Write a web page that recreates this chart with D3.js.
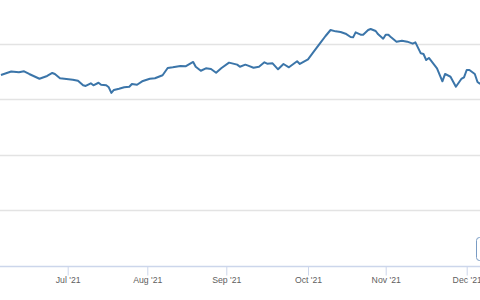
<!DOCTYPE html>
<html>
<head>
<meta charset="utf-8">
<script src="https://cdn.jsdelivr.net/npm/d3@7"></script>
<style>
    html, body { margin: 0; padding: 0; background: #fff; overflow: hidden; }
    .tick text { font-family: "Liberation Sans", Arial, sans-serif; font-size: 8.7px; fill: #606060; }
</style>
</head>
<body>
<svg id="chart"></svg>
<script>
// month ticks shown on the x-axis
const monthTicks = ['2021-07-01', '2021-08-01', '2021-09-01', '2021-10-01', '2021-11-01', '2021-12-01'];

// y gridline values
const yTicks = [0, 50, 100, 150, 200];

// daily series
const dates = [
    '2021-06-05', '2021-06-09', '2021-06-12', '2021-06-14', '2021-06-16', '2021-06-20', '2021-06-23', '2021-06-25', '2021-06-26', '2021-06-28',
    '2021-07-03', '2021-07-05', '2021-07-07', '2021-07-08', '2021-07-10', '2021-07-11', '2021-07-13', '2021-07-14', '2021-07-16', '2021-07-17',
    '2021-07-18', '2021-07-19', '2021-07-21', '2021-07-23', '2021-07-25', '2021-07-26', '2021-07-28', '2021-07-30',
    '2021-08-02', '2021-08-04', '2021-08-07', '2021-08-09', '2021-08-11', '2021-08-14', '2021-08-16', '2021-08-18', '2021-08-19', '2021-08-20',
    '2021-08-22', '2021-08-24', '2021-08-26', '2021-08-28', '2021-08-30',
    '2021-09-02', '2021-09-05', '2021-09-06', '2021-09-08', '2021-09-09', '2021-09-11', '2021-09-13', '2021-09-15', '2021-09-16', '2021-09-18',
    '2021-09-20', '2021-09-22', '2021-09-24', '2021-09-27', '2021-09-28',
    '2021-10-01', '2021-10-03', '2021-10-06', '2021-10-08', '2021-10-10', '2021-10-12', '2021-10-14', '2021-10-16', '2021-10-18', '2021-10-19',
    '2021-10-20', '2021-10-22', '2021-10-23', '2021-10-25', '2021-10-26', '2021-10-28', '2021-10-29', '2021-10-31',
    '2021-11-01', '2021-11-02', '2021-11-03', '2021-11-05', '2021-11-07', '2021-11-09', '2021-11-11', '2021-11-12', '2021-11-14', '2021-11-15',
    '2021-11-16', '2021-11-17', '2021-11-20', '2021-11-22', '2021-11-23', '2021-11-25', '2021-11-27', '2021-11-29', '2021-11-30',
    '2021-12-01', '2021-12-02', '2021-12-04', '2021-12-05', '2021-12-06'
];

const values = [
    172.1, 175.2, 174.5, 175.4, 173.0, 168.7, 171.2, 173.9, 173.0, 169.1,
    167.8, 166.9, 162.8, 162.2, 164.6, 162.8, 165.1, 163.3, 162.8, 161.0,
    155.9, 158.6, 159.7, 161.0, 161.5, 164.0, 163.3, 166.4,
    168.7, 169.1, 171.8, 178.4, 179.0, 180.2, 179.9, 182.6, 183.8, 179.5,
    175.9, 178.1, 177.5, 174.1, 178.1,
    183.2, 181.4, 179.5, 181.4, 180.5, 178.6, 179.5, 183.5, 182.3, 182.6,
    177.2, 182.0, 179.0, 184.4, 182.0,
    186.2, 192.2, 201.2, 207.2, 212.6, 211.4, 210.8, 209.3, 206.3, 206.0,
    210.5, 208.4, 208.4, 212.6, 213.5, 211.7, 208.7, 204.8,
    208.4, 208.4, 206.0, 202.1, 203.0, 202.1, 200.3, 201.5, 191.6, 191.0,
    185.6, 187.4, 178.1, 166.4, 173.0, 170.5, 161.5, 168.5, 170.0,
    176.6, 176.6, 173.0, 165.8, 164.0
];

class PriceLineChart {
    constructor(_config) {
        this.config = {
            parentElement: _config.parentElement,
            containerWidth: _config.containerWidth || 480,
            containerHeight: _config.containerHeight || 300
        }

        this.data = dates.map((d, i) => ({ date: d3.timeParse('%Y-%m-%d')(d), value: values[i] }));

        this.initVis();
    }

    initVis() {
        let vis = this;

        vis.svg = d3.select(vis.config.parentElement)
            .attr('width', vis.config.containerWidth)
            .attr('height', vis.config.containerHeight);

        // the axis is ordinal-ish, so each month gets its own segment
        vis.xScale = d3.scaleTime()
            .domain(monthTicks.map(d3.timeParse('%Y-%m-%d')))
            .range([67.7, 147.3, 226.3, 308, 385.7, 466.7]);

        vis.yScale = d3.scaleLinear()
            .domain([0, 200])
            .range([266, 44]);

        vis.xAxis = d3.axisBottom(vis.xScale)
            .tickValues(monthTicks.map(d3.timeParse('%Y-%m-%d')))
            .tickFormat(d3.timeFormat("%b '%y"))
            .tickSize(9)
            .tickPadding(1.5);

        vis.gridG = vis.svg.append('g').attr('class', 'grid');
        vis.xAxisG = vis.svg.append('g')
            .attr('class', 'axis x-axis')
            .attr('transform', `translate(0,${Math.round(vis.yScale(0)) + 0.5})`);

        vis.updateVis();
    }

    updateVis() {
        let vis = this;

        vis.line = d3.line()
            .x(d => vis.xScale(d.date))
            .y(d => vis.yScale(d.value));

        vis.renderVis();
    }

    renderVis() {
        let vis = this;

        // horizontal gridlines across the whole width
        vis.gridG.selectAll('line')
            .data(yTicks.filter(d => d > 0))
            .join('line')
            .attr('x1', 0)
            .attr('x2', vis.config.containerWidth)
            .attr('y1', d => Math.floor(vis.yScale(d)) + 0.5)
            .attr('y2', d => Math.floor(vis.yScale(d)) + 0.5)
            .attr('stroke', '#e3e3e3')
            .attr('stroke-width', 1.3);

        vis.xAxisG.call(vis.xAxis);
        vis.xAxisG.select('.domain').remove();
        vis.xAxisG.selectAll('.tick line').attr('stroke', '#ccd6eb');

        // axis line spans the full width
        vis.xAxisG.insert('line', ':first-child')
            .attr('x1', 0)
            .attr('x2', vis.config.containerWidth)
            .attr('stroke', '#ccd6eb')
            .attr('stroke-width', 1.5);

        vis.svg.append('path')
            .datum(vis.data)
            .attr('class', 'chart-line')
            .attr('fill', 'none')
            .attr('stroke', '#3b75a9')
            .attr('stroke-width', 2)
            .attr('stroke-linejoin', 'round')
            .attr('d', vis.line);

        // partly visible button at the bottom right edge
        vis.svg.append('rect')
            .attr('x', 476.5)
            .attr('y', 237.5)
            .attr('width', 20)
            .attr('height', 23)
            .attr('rx', 3)
            .attr('fill', '#fff')
            .attr('stroke', '#7a9cc4')
            .attr('stroke-width', 1);
    }
}

new PriceLineChart({ parentElement: '#chart' });
</script>
</body>
</html>
